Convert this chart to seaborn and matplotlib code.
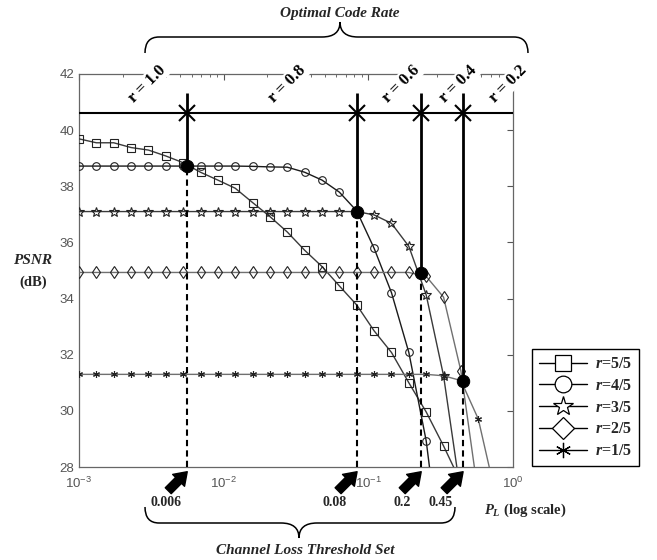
import numpy as np
import pandas as pd
import matplotlib
matplotlib.use("Agg")
import matplotlib.pyplot as plt
import seaborn as sns
from matplotlib.path import Path
from matplotlib.patches import PathPatch
from matplotlib.lines import Line2D

# ---------------- data ----------------
P_L = [0.001, 0.001318, 0.001738, 0.002291, 0.003020, 0.003981, 0.005248,
       0.006918, 0.009120, 0.012023, 0.015849, 0.020893, 0.027542, 0.036308,
       0.047863, 0.063096, 0.083176, 0.109648, 0.144544, 0.190546, 0.251189,
       0.331131, 0.436516, 0.575440, 0.758578, 1.0]

psnr_r55 = [39.69, 39.55, 39.55, 39.38, 39.29, 39.08, 38.84, 38.50, 38.22,
            37.93, 37.42, 36.92, 36.37, 35.72, 35.14, 34.45, 33.77, 32.85,
            32.08, 31.00, 29.96, 28.75, 27.45]
psnr_r45 = [38.72, 38.72, 38.72, 38.72, 38.72, 38.72, 38.72, 38.72, 38.72,
            38.72, 38.71, 38.69, 38.68, 38.50, 38.22, 37.79, 37.12, 35.79,
            34.21, 32.08, 28.93, 24.0]
psnr_r35 = [37.10, 37.10, 37.10, 37.10, 37.10, 37.10, 37.10, 37.10, 37.10,
            37.10, 37.10, 37.10, 37.10, 37.10, 37.10, 37.10, 37.10, 36.98,
            36.68, 35.86, 34.13, 31.25, 27.0]
psnr_r25 = [34.93, 34.93, 34.93, 34.93, 34.93, 34.93, 34.93, 34.93, 34.93,
            34.93, 34.93, 34.93, 34.93, 34.93, 34.93, 34.93, 34.93, 34.93,
            34.93, 34.93, 34.79, 34.05, 31.42, 27.0]
psnr_r15 = [31.30, 31.30, 31.30, 31.30, 31.30, 31.30, 31.30, 31.30, 31.30,
            31.30, 31.30, 31.30, 31.30, 31.30, 31.30, 31.30, 31.30, 31.30,
            31.30, 31.30, 31.30, 31.25, 31.08, 29.71, 27.0]

series_labels = ["r=5/5", "r=4/5", "r=3/5", "r=2/5", "r=1/5"]
series_values = [psnr_r55, psnr_r45, psnr_r35, psnr_r25, psnr_r15]

thr_x = [0.0056, 0.0836, 0.232, 0.452]
thr_psnr = [38.72, 37.10, 34.90, 31.07]
thr_labels = ["0.006", "0.08", "0.2", "0.45"]
opt_psnr = 40.6
line_top_psnr = 41.32
rate_labels = ["r = 1.0", "r = 0.8", "r = 0.6", "r = 0.4", "r = 0.2"]
yticks = [28, 30, 32, 34, 36, 38, 40, 42]

# ---------------- style ----------------
sns.set_style("white")
plt.rcParams["font.family"] = ["Liberation Sans", "DejaVu Sans"]
plt.rcParams["mathtext.fontset"] = "custom"
plt.rcParams["mathtext.it"] = "Liberation Serif:bold:italic"
plt.rcParams["mathtext.rm"] = "Liberation Serif:bold"
plt.rcParams["mathtext.bf"] = "Liberation Serif:bold"

W, H = 657, 560
fig = plt.figure(figsize=(W / 100, H / 100), dpi=100)
fig.patch.set_facecolor("white")


def fx(px):
    return px / W


def fy(py):
    return 1 - py / H


ax = fig.add_axes([fx(79), fy(467), fx(513) - fx(79), fy(74) - fy(467)])
ax.set_xscale("log")

styles = [
    dict(marker="s", color="#3a3a3a", markersize=5.5),
    dict(marker="o", color="#1a1a1a", markersize=5.5),
    dict(marker="*", color="#3a3a3a", markersize=7),
    dict(marker="d", color="#707070", markersize=6),
    dict(marker=(6, 2, 0), color="#707070", markersize=5),
]

for lab, vals, st in zip(series_labels, series_values, styles):
    df = pd.DataFrame({"P_L": P_L[:len(vals)], "PSNR": vals})
    sns.lineplot(data=df, x="P_L", y="PSNR", ax=ax, color=st["color"],
                 marker=st["marker"], markersize=st["markersize"],
                 markerfacecolor="none", markeredgecolor="#222222",
                 markeredgewidth=0.8, linewidth=1.0, estimator=None,
                 legend=False, zorder=3)

# optimal-rate horizontal line and verticals
ax.axhline(opt_psnr, color="k", lw=1.5, zorder=4)
ax.vlines(thr_x, thr_psnr, line_top_psnr, color="k", lw=2, zorder=4)
ax.vlines(thr_x, 28, thr_psnr, color="k", lw=1.5, linestyles=(0, (3, 2)),
          zorder=4)
ax.plot(thr_x, [opt_psnr] * len(thr_x), linestyle="none", marker="x",
        markersize=11, markeredgewidth=1.5, color="k", zorder=5)
sns.scatterplot(x=thr_x, y=thr_psnr, ax=ax, color="k", s=80,
                edgecolor="k", zorder=6, legend=False)

ax.set_xlim(1e-3, 1)
ax.set_ylim(28, 42)
ax.set_yticks(yticks)
ax.set_xlabel("")
ax.set_ylabel("")
for sp in ax.spines.values():
    sp.set_color("#666666")
    sp.set_linewidth(0.9)
    sp.set_visible(True)
ax.tick_params(which="both", direction="in", top=True, right=True,
               colors="#555555", labelsize=9.5)
ax.tick_params(which="major", length=4)
ax.tick_params(which="minor", length=2.5)
ax.tick_params(axis="x", pad=6)

# rotated code-rate labels along top
serif = "Liberation Serif"
rate_pos = [147, 287, 401, 458, 508]
for lab, px in zip(rate_labels, rate_pos):
    ax.text((px - 79) / 434, (467 - 84) / 393, lab, transform=ax.transAxes,
            rotation=45, ha="center", va="center", rotation_mode="anchor",
            fontsize=12, fontweight="bold", family=serif, color="k",
            clip_on=False, zorder=7,
            bbox=dict(facecolor="white", edgecolor="none", pad=0.8))

# arrows under the x-axis
for xv in thr_x:
    ax.annotate("", xy=(xv, -0.012), xycoords=("data", "axes fraction"),
                xytext=(-19, -19), textcoords="offset pixels",
                arrowprops=dict(arrowstyle="simple,head_length=0.8,head_width=1.1,tail_width=0.55",
                                fc="k", ec="k", shrinkA=0, shrinkB=0,
                                mutation_scale=11),
                annotation_clip=False)

# threshold labels
lab_px = [166, 335, 402, 441]
for lab, px in zip(thr_labels, lab_px):
    fig.text(fx(px), fy(503), lab, ha="center", va="center", fontsize=10,
             fontweight="bold", family=serif)


def brace(x0, x1, y_end, y_bar, y_tip, xm, r=14, r2=18):
    pts = [(x0, y_end), (x0, y_bar), (x0 + r, y_bar),
           (xm - r2, y_bar), (xm, y_bar), (xm, y_tip),
           (xm, y_bar), (xm + r2, y_bar),
           (x1 - r, y_bar), (x1, y_bar), (x1, y_end)]
    codes = [Path.MOVETO, Path.CURVE3, Path.CURVE3,
             Path.LINETO, Path.CURVE3, Path.CURVE3,
             Path.CURVE3, Path.CURVE3,
             Path.LINETO, Path.CURVE3, Path.CURVE3]
    verts = [(fx(a), fy(b)) for a, b in pts]
    patch = PathPatch(Path(verts, codes), fill=False, lw=1.1, ec="k",
                      transform=fig.transFigure)
    fig.add_artist(patch)


brace(145, 528, 53, 37, 22, 340)
brace(145, 455, 507, 523, 538, 299)

fig.text(fx(340), fy(14), "Optimal Code Rate", ha="center", va="center",
         fontsize=11, fontweight="bold", fontstyle="italic", family=serif)
fig.text(fx(305), fy(551), "Channel Loss Threshold Set", ha="center",
         va="center", fontsize=11, fontweight="bold", fontstyle="italic",
         family=serif)
fig.text(fx(525), fy(510), r"$P_L$ (log scale)", ha="center", va="center",
         fontsize=10.5, fontweight="bold", family=serif)
fig.text(fx(33), fy(261), "PSNR", ha="center", va="center", fontsize=11,
         fontweight="bold", fontstyle="italic", family=serif)
fig.text(fx(33), fy(282), "(dB)", ha="center", va="center", fontsize=10.5,
         fontweight="bold", family=serif)

# legend
leg_markers = ["s", "o", "*", "D", (6, 2, 0)]
leg_sizes = [12, 12, 15, 11, 11]
handles = [Line2D([], [], color="k", lw=1, marker=m, markersize=s,
                  markerfacecolor="white", markeredgecolor="k",
                  markeredgewidth=0.9)
           for m, s in zip(leg_markers, leg_sizes)]
leg_labels = [r"$r$=" + s.split("=")[1] for s in series_labels]
leg = fig.legend(handles, leg_labels, loc="upper left",
                 bbox_to_anchor=(fx(532), fy(349)), borderaxespad=0,
                 frameon=True, fancybox=False, edgecolor="k", framealpha=1,
                 handlelength=3.0, handletextpad=0.5, labelspacing=0.36,
                 borderpad=0.45, prop=dict(family=serif, weight="bold", size=11.5))
leg.get_frame().set_linewidth(1.0)

fig.savefig("out.png", dpi=100)
